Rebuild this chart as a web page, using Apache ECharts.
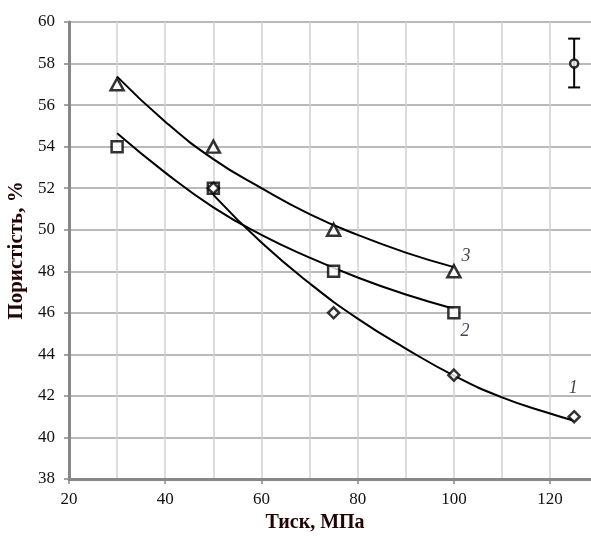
<!DOCTYPE html>
<html>
<head>
<meta charset="utf-8">
<script src="https://cdn.jsdelivr.net/npm/echarts@6/dist/echarts.min.js"></script>
<style>
html,body{margin:0;padding:0;background:#fff;}
#chart{width:591px;height:536px;}
</style>
</head>
<body>
<div id="chart"></div>
<script>
// Measured points (markers)
const pointsX1 = [50, 75, 100, 125];
const pointsY1 = [52, 46, 43, 41];
const pointsX2 = [30, 50, 75, 100];
const pointsY2 = [54, 52, 48, 46];
const pointsX3 = [30, 50, 75, 100];
const pointsY3 = [57, 54, 50, 48];

// Fitted curves
const curveX1 = [50, 60, 70, 80, 90, 100, 110, 120, 125];
const curveY1 = [51.68, 49.38, 47.42, 45.72, 44.28, 42.98, 41.93, 41.15, 40.8];
const curveX2 = [30, 40, 50, 60, 70, 80, 90, 100];
const curveY2 = [54.64, 52.75, 51.08, 49.75, 48.66, 47.7, 46.88, 46.2];
const curveX3 = [30, 40, 50, 60, 70, 80, 90, 100];
const curveY3 = [57.37, 55.2, 53.4, 52.0, 50.75, 49.75, 48.9, 48.2];

// Error bar sample
const errX = [125];
const errY = [58];
const errLow = [56.85];
const errHigh = [59.2];

// Curve number annotations
const curveLabels = ['1', '2', '3'];
const labelX = [124.8, 102.3, 102.5];
const labelY = [42.35, 45.1, 48.74];

const xTickValues = [20, 40, 60, 80, 100, 120];
const yMin = 38, yMax = 60, yStep = 2;
const xMin = 20, xMax = 128.5;

const zip = (xs, ys) => xs.map((x, i) => [x, ys[i]]);

const serif = 'Liberation Serif';
const markerStyle = { color: '#fff', borderColor: '#000', borderWidth: 2.5 };
const curveStyle = { color: '#000', width: 2 };

const chart = echarts.init(document.getElementById('chart'), null, { renderer: 'canvas' });
chart.setOption({
  animation: false,
  backgroundColor: '#fff',
  grid: { left: 69, top: 22, bottom: 57, right: 0, containLabel: false, outerBoundsMode: 'none' },
  xAxis: [
    {
      type: 'value', min: xMin, max: xMax, interval: 10, position: 'bottom',
      axisLine: { show: false }, axisTick: { show: false }, axisLabel: { show: false },
      splitLine: { show: true, showMaxLine: false, lineStyle: { color: '#d2d2d2', width: 1.5 } }
    },
    {
      type: 'value', min: xMin, max: xMax, interval: 20, position: 'bottom',
      axisLine: { show: true, onZero: false, lineStyle: { color: '#878787', width: 3 } },
      axisTick: { show: true, length: 5, lineStyle: { color: '#878787', width: 1.5 } },
      axisLabel: {
        show: true, showMaxLabel: false, margin: 12, color: '#111',
        fontFamily: serif, fontSize: 17,
        formatter: v => (xTickValues.indexOf(v) >= 0 ? String(v) : '')
      },
      splitLine: { show: false },
      name: 'Тиск, МПа', nameLocation: 'middle', nameGap: 31,
      nameTextStyle: { fontFamily: serif, fontSize: 20, fontWeight: 'bold', color: '#220404', padding: [0, 30, 0, 0] }
    }
  ],
  yAxis: {
    type: 'value', min: yMin, max: yMax, interval: yStep,
    axisLine: { show: true, onZero: false, lineStyle: { color: '#878787', width: 3 } },
    axisTick: { show: true, length: 5, lineStyle: { color: '#878787', width: 1.5 } },
    axisLabel: { margin: 14, color: '#111', fontFamily: serif, fontSize: 17 },
    splitLine: { show: true, lineStyle: { color: '#a3a3a3', width: 1.5 } },
    name: 'Пористість, %', nameLocation: 'middle', nameGap: 35, nameRotate: 90,
    nameTextStyle: { fontFamily: serif, fontSize: 21, fontWeight: 'bold', color: '#220404' }
  },
  series: [
    { type: 'line', xAxisIndex: 0, data: zip(curveX3, curveY3), smooth: 0.5, showSymbol: false, lineStyle: curveStyle, z: 3 },
    { type: 'line', xAxisIndex: 0, data: zip(curveX2, curveY2), smooth: 0.5, showSymbol: false, lineStyle: curveStyle, z: 3 },
    { type: 'line', xAxisIndex: 0, data: zip(curveX1, curveY1), smooth: 0.5, showSymbol: false, lineStyle: curveStyle, z: 3 },
    { type: 'scatter', xAxisIndex: 0, data: zip(pointsX3, pointsY3), symbol: 'triangle', symbolSize: [13, 12], itemStyle: markerStyle, z: 4 },
    { type: 'scatter', xAxisIndex: 0, data: zip(pointsX2, pointsY2), symbol: 'rect', symbolSize: 11, itemStyle: markerStyle, z: 4 },
    { type: 'scatter', xAxisIndex: 0, data: zip(pointsX1, pointsY1), symbol: 'diamond', symbolSize: [11, 11], itemStyle: markerStyle, z: 5 },
    {
      type: 'custom', xAxisIndex: 0, z: 4,
      data: errX.map((x, i) => [x, errY[i], errLow[i], errHigh[i]]),
      renderItem: function (params, api) {
        const x = api.value(0);
        const lo = api.coord([x, api.value(2)]);
        const hi = api.coord([x, api.value(3)]);
        const st = { stroke: '#000', lineWidth: 2 };
        return {
          type: 'group',
          children: [
            { type: 'line', shape: { x1: lo[0], y1: lo[1], x2: hi[0], y2: hi[1] }, style: st },
            { type: 'line', shape: { x1: lo[0] - 6, y1: lo[1], x2: lo[0] + 6, y2: lo[1] }, style: st },
            { type: 'line', shape: { x1: hi[0] - 6, y1: hi[1], x2: hi[0] + 6, y2: hi[1] }, style: st }
          ]
        };
      }
    },
    { type: 'scatter', xAxisIndex: 0, data: zip(errX, errY), symbol: 'circle', symbolSize: 8, itemStyle: markerStyle, z: 6 },
    {
      type: 'scatter', xAxisIndex: 0, symbolSize: 0, z: 6,
      data: curveLabels.map((t, i) => ({ value: [labelX[i], labelY[i]], name: t })),
      label: {
        show: true, position: 'inside', formatter: p => p.name,
        fontFamily: serif, fontStyle: 'italic', fontSize: 18, color: '#101028'
      }
    }
  ]
});
</script>
</body>
</html>
